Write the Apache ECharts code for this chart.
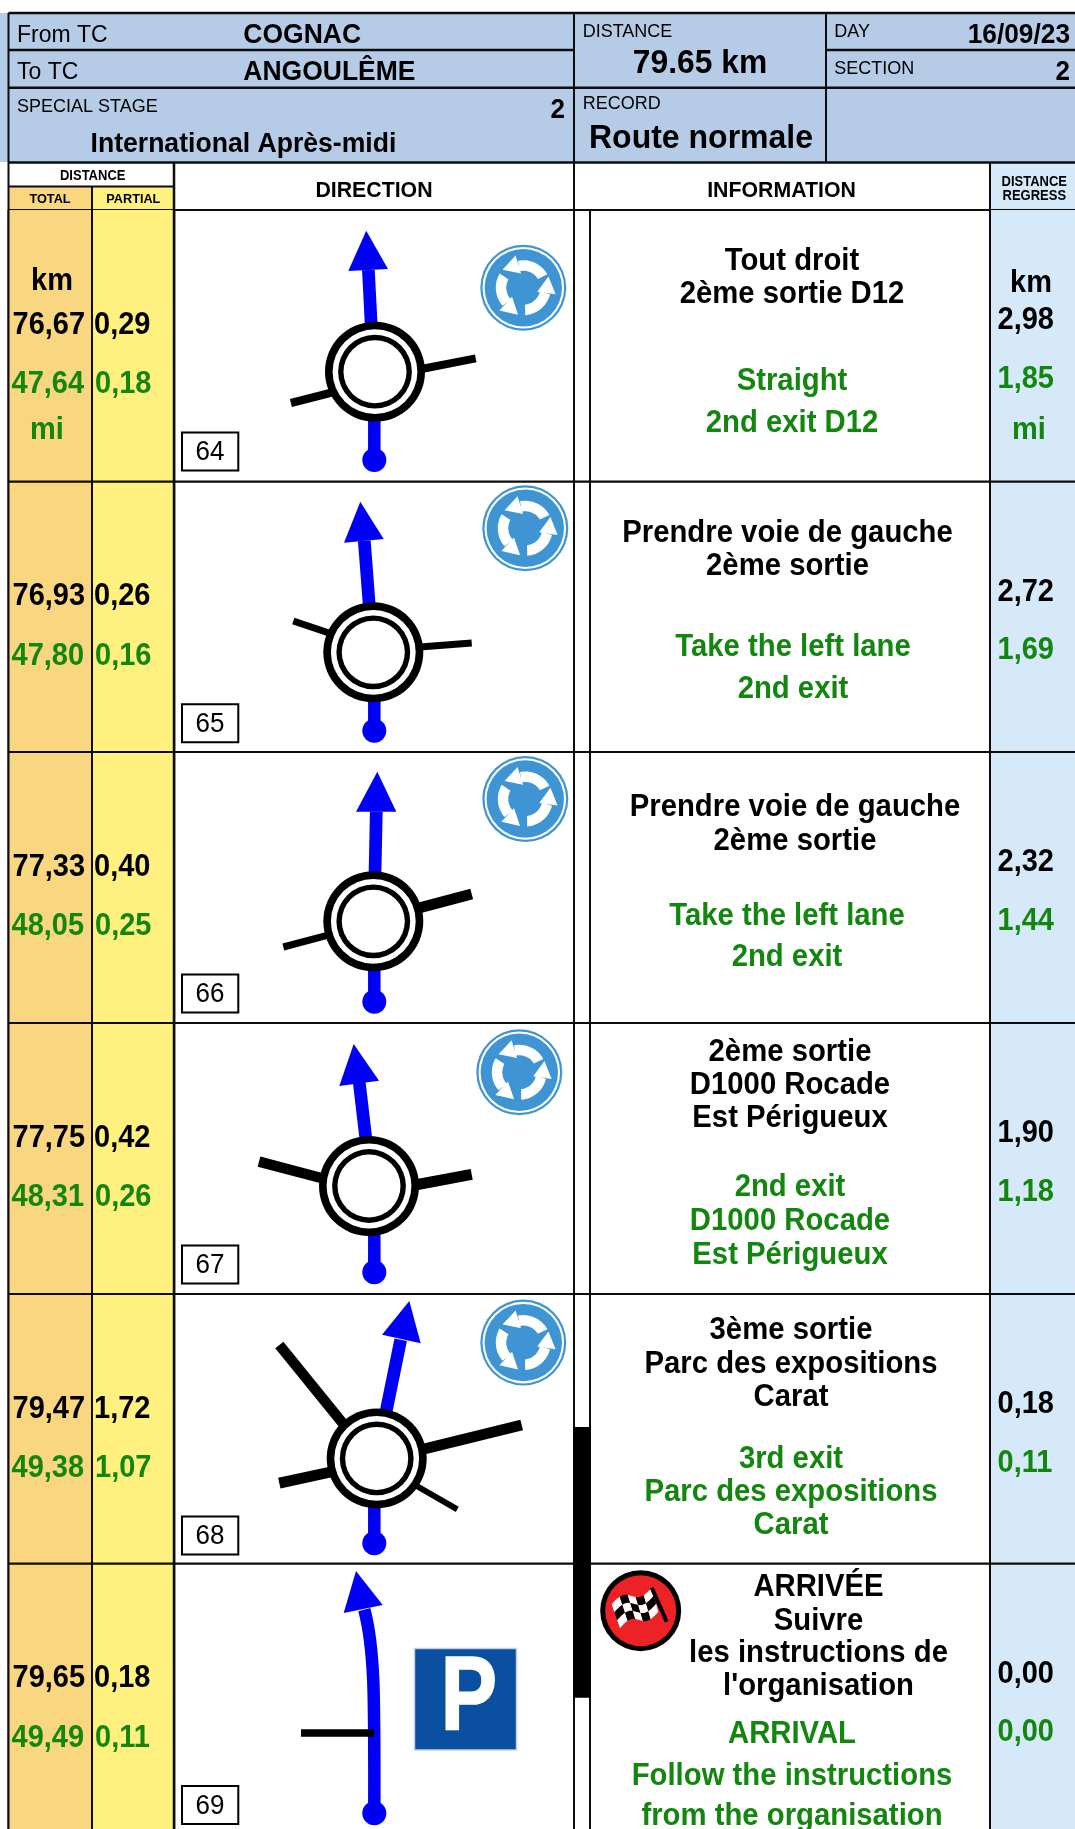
<!DOCTYPE html>
<html><head><meta charset="utf-8">
<style>html,body{margin:0;padding:0;background:#fff}#c{width:1075px;height:1829px}</style>
<script src="https://cdn.jsdelivr.net/npm/echarts@6/dist/echarts.min.js"></script>
</head><body><div id="c"></div>
<script>
// ---- values read from the roadbook ----
const fromTC = 'COGNAC';
const toTC = 'ANGOULÊME';
const stageName = 'International Après-midi';
const stageNo = '2';
const totalDistance = '79.65 km';
const roadType = 'Route normale';
const dayText = '16/09/23';
const sectionNo = '2';
const stepNumbers = ['64','65','66','67','68','69'];
const kmTotal   = ['76,67','76,93','77,33','77,75','79,47','79,65'];
const kmPartial = ['0,29','0,26','0,40','0,42','1,72','0,18'];
const miTotal   = ['47,64','47,80','48,05','48,31','49,38','49,49'];
const miPartial = ['0,18','0,16','0,25','0,26','1,07','0,11'];
const kmRegress = ['2,98','2,72','2,32','1,90','0,18','0,00'];
const miRegress = ['1,85','1,69','1,44','1,18','0,11','0,00'];
const infoFr = [
  ['Tout droit','2ème sortie D12'],
  ['Prendre voie de gauche','2ème sortie'],
  ['Prendre voie de gauche','2ème sortie'],
  ['2ème sortie','D1000 Rocade','Est Périgueux'],
  ['3ème sortie','Parc des expositions','Carat'],
  ['ARRIVÉE','Suivre','les instructions de',"l'organisation"]
];
const infoEn = [
  ['Straight','2nd exit D12'],
  ['Take the left lane','2nd exit'],
  ['Take the left lane','2nd exit'],
  ['2nd exit','D1000 Rocade','Est Périgueux'],
  ['3rd exit','Parc des expositions','Carat'],
  ['ARRIVAL','Follow the instructions','from the organisation']
];

// ---- layout of the sheet (positions on the page axes) ----
const rowTops = [210,481.7,752,1023,1294,1563.6];
const infoFrLayout = [
  {cx:792,y:[260,293]},{cx:787.5,y:[532,565]},{cx:795,y:[806,840]},
  {cx:790,y:[1051,1084,1117]},{cx:791,y:[1329,1363,1396]},{cx:818.5,y:[1586,1620,1652,1685]}
];
const infoEnLayout = [
  {cx:792,y:[380,422]},{cx:793,y:[646,688]},{cx:787,y:[915,956]},
  {cx:790,y:[1186,1220,1254]},{cx:791,y:[1458,1491,1524]},{cx:792,y:[1733,1775,1815]}
];
const diagrams = [
  {c:[375,371.7],dotY:460,line:[[371.2,325],[368.4,270]],head:[[366.2,230.7],[348.3,271],[388,269]],
   roads:[[290.9,403,334,392,8],[424,368.5,475.7,358.3,8]],sign:[523.3,287.7]},
  {c:[373.3,652.3],dotY:730.7,line:[[369.3,606],[364.3,540.7]],head:[[360.3,501.7],[344,542.7],[383.7,539]],
   roads:[[293.3,621,332,634,7],[420,647,471.7,643,7]],sign:[525.3,528.3]},
  {c:[373.3,921.3],dotY:1001.7,line:[[375,875],[376.3,811.7]],head:[[377.3,771.7],[356,811.7],[396.3,811.7]],
   roads:[[283.3,947,330,934.7,7],[417,908.5,471.7,894,11]],sign:[525.3,799]},
  {c:[369,1186],dotY:1272.3,line:[[366,1140],[359.3,1082.7]],head:[[353.7,1044],[339.3,1086],[379,1080.7]],
   roads:[[259,1161.7,325,1179,10.5],[415,1185,471.7,1174.3,11]],sign:[519.3,1072.3]},
  {c:[376.7,1458.4],dotY:1543.3,line:[[386,1412],[400.7,1339.8]],head:[[409.3,1301],[382,1334.7],[420.7,1343.3]],
   roads:[[279.3,1345,345,1426,10.5],[422,1449.5,521.7,1425,11],[279.3,1483.2,333,1471.5,11],[415,1485,457.3,1509.3,6]],sign:[523.3,1342.6]}
];
const C = {blue:'#b5cbe6',orange:'#f8d780',yellow:'#fef17f',sky:'#d5e9f8',green:'#13860f',route:'#0000f5',sign:'#3f95d3',line:'#0c0c0c'};
const FONT = '"Liberation Sans",Arial,sans-serif';
const TEXT_DY = 2.2, TEXT_STRETCH = 1.06;

function tools(api){
  const P = (x,y)=>api.coord([x,y]);
  return {
    P,
    rect:(x0,y0,x1,y1,fill,stroke,lw)=>{const a=P(x0,y0),b=P(x1,y1);return {type:'rect',shape:{x:a[0],y:a[1],width:b[0]-a[0],height:b[1]-a[1]},style:{fill:fill||'none',stroke:stroke||null,lineWidth:lw||0}};},
    line:(x0,y0,x1,y1,lw,col)=>{const a=P(x0,y0),b=P(x1,y1);return {type:'line',shape:{x1:a[0],y1:a[1],x2:b[0],y2:b[1]},style:{stroke:col||C.line,lineWidth:lw,lineCap:'butt'}};},
    circle:(x,y,r,fill)=>{const a=P(x,y);return {type:'circle',shape:{cx:a[0],cy:a[1],r},style:{fill}};},
    poly:(pts,fill)=>({type:'polygon',shape:{points:pts.map(p=>P(p[0],p[1]))},style:{fill}}),
    text:(s,x,y,size,bold,fill,align,sx,sy)=>{const a=P(x,y+TEXT_DY);return {type:'text',x:a[0],y:a[1],scaleX:sx||1,scaleY:sy||TEXT_STRETCH,style:{text:s,x:0,y:0,fill:fill||'#000',align:align||'left',verticalAlign:'middle',font:(bold?'bold ':'')+size+'px '+FONT}};}
  };
}

function roundaboutSign(t,cx,cy){
  const out=[t.circle(cx,cy,43,C.sign),t.circle(cx,cy,40.8,'#fff'),t.circle(cx,cy,38.7,C.sign)];
  const pol=(deg,r)=>[cx+r*Math.cos(deg*Math.PI/180),cy-r*Math.sin(deg*Math.PI/180)];
  [0,120,245].forEach(rot=>{
    const band=[];
    for(let a=29;a<=103;a+=4) band.push(pol(a+rot,27.5));
    for(let a=103;a>=29;a-=4) band.push(pol(a+rot,17));
    out.push(t.poly(band,'#fff'));
    out.push(t.poly([pol(139+rot,27.5),pol(103.5+rot,33),pol(99+rot,14.5)],'#fff'));
  });
  return out;
}

function finishSign(t){
  const cx=640.7,cy=1610.7,out=[t.circle(cx,cy,40.5,'#000'),t.circle(cx,cy,35.5,'#ec2227')];
  const TL=[611.7,1604.3],TR=[651.7,1587.7],BR=[658.3,1611.7],BL=[620,1628.3];
  const pt=(u,v)=>[TL[0]*(1-u)*(1-v)+TR[0]*u*(1-v)+BR[0]*u*v+BL[0]*(1-u)*v,
                   TL[1]*(1-u)*(1-v)+TR[1]*u*(1-v)+BR[1]*u*v+BL[1]*(1-u)*v-4.5*Math.sin(2*Math.PI*u)];
  const n=5,m=3,steps=4;
  for(let i=0;i<n;i++)for(let j=0;j<m;j++){
    const pts=[];
    for(let s=0;s<=steps;s++) pts.push(pt((i+s/steps)/n,j/m));
    for(let s=steps;s>=0;s--) pts.push(pt((i+s/steps)/n,(j+1)/m));
    out.push(t.poly(pts,(i+j)%2?'#000':'#fff'));
  }
  out.push(t.line(651.7,1587.7,666.7,1621.7,4,'#000'));
  return out;
}

function headerItem(params,api){
  const t=tools(api),ch=[];
  ch.push(t.rect(0,13,1075,162,C.blue));
  ch.push(t.rect(0,0,1075,13,'#fff'));
  ch.push(t.rect(8,186,92,210,C.orange));
  ch.push(t.rect(92,186,174,210,C.yellow));
  ch.push(t.rect(990,162,1075,210,C.sky));
  // rules
  [[8.5,13,1075,13,2.5],[8.5,50,574,50,2.5],[826,50,1075,50,2.5],[8.5,87.8,1075,87.8,2.5],[8.5,162.5,1075,162.5,2.5],
   [8.5,186.5,174,186.5,2],[8.5,210,1075,210,2]].forEach(l=>ch.push(t.line(l[0],l[1],l[2],l[3],l[4])));
  [[8.5,13,8.5,1829,2],[92,186,92,1829,2],[174,162,174,1829,2.5],[574,13,574,1829,2],[826,13,826,162,2],[990,162,990,1829,2]]
   .forEach(l=>ch.push(t.line(l[0],l[1],l[2],l[3],l[4])));
  // labels
  ch.push(t.text('From TC',17,33,23));
  ch.push(t.text('To TC',17,70,23));
  ch.push(t.text(fromTC,243.3,33,26.5,true));
  ch.push(t.text(toTC,243.3,70,26.5,true));
  ch.push(t.text('SPECIAL STAGE',17,104.5,18));
  ch.push(t.text(stageNo,565,108.5,26,true,'#000','right'));
  ch.push(t.text(stageName,90.5,142.5,26.6,true));
  ch.push(t.text('DISTANCE',582.7,30,18));
  ch.push(t.text(totalDistance,700,62,31.8,true,'#000','center'));
  ch.push(t.text('RECORD',582.7,102,18));
  ch.push(t.text(roadType,589,136,32,true));
  ch.push(t.text('DAY',834.3,30,18));
  ch.push(t.text(dayText,1070,33,26.3,true,'#000','right'));
  ch.push(t.text('SECTION',834.3,67,18));
  ch.push(t.text(sectionNo,1070,70.5,26,true,'#000','right'));
  ch.push(t.text('DISTANCE',92.7,174,13,true,'#000','center'));
  ch.push(t.text('TOTAL',50,197.5,12.7,true,'#000','center'));
  ch.push(t.text('PARTIAL',133.3,197.5,12.7,true,'#000','center'));
  ch.push(t.text('DIRECTION',374,188.5,21.3,true,'#000','center'));
  ch.push(t.text('INFORMATION',781.5,188.5,21.3,true,'#000','center'));
  ch.push(t.text('DISTANCE',1034.3,180.5,13,true,'#000','center'));
  ch.push(t.text('REGRESS',1034.3,194,13,true,'#000','center'));
  return {type:'group',children:ch};
}

function rowItem(params,api){
  const i=api.value(0),t=tools(api),ch=[];
  const top=rowTops[i],bottom=i<5?rowTops[i+1]:1829;
  ch.push(t.rect(9,top,92,bottom,C.orange));
  ch.push(t.rect(92,top,174,bottom,C.yellow));
  ch.push(t.rect(990,top,1075,bottom,C.sky));
  [[8.5,top,8.5,bottom,2],[92,top,92,bottom,2],[174,top,174,bottom,2.5],[574,top,574,bottom,2],[590,top,590,bottom,2],[990,top,990,bottom,2]]
    .forEach(l=>ch.push(t.line(l[0],l[1],l[2],l[3],l[4])));
  if(i>0) ch.push(t.line(8.5,top,1075,top,2.2));
  // distances
  const NUM=29;
  ch.push(t.text(kmTotal[i],12.5,top+113,NUM,true));
  ch.push(t.text(kmPartial[i],94,top+113,NUM,true));
  ch.push(t.text(miTotal[i],11.5,top+172.5,NUM,true,C.green));
  ch.push(t.text(miPartial[i],95,top+172.5,NUM,true,C.green));
  ch.push(t.text(kmRegress[i],997.5,top+108.5,NUM,true));
  ch.push(t.text(miRegress[i],997.5,top+167,NUM,true,C.green));
  if(i===0){
    ch.push(t.text('km',52,279,NUM,true,'#000','center'));
    ch.push(t.text('mi',47,428,NUM,true,C.green,'center'));
    ch.push(t.text('km',1031,281,NUM,true,'#000','center'));
    ch.push(t.text('mi',1029,428,NUM,true,C.green,'center'));
  }
  // step box
  ch.push(t.rect(182,top+222.5,238.3,top+260.5,'#fff','#000',2));
  ch.push(t.text(stepNumbers[i],210,top+240.5,26,false,'#000','center'));
  // info text
  const F=29.3;
  infoFr[i].forEach((s,k)=>ch.push(t.text(s,infoFrLayout[i].cx,infoFrLayout[i].y[k]-0.5,F,true,'#000','center')));
  infoEn[i].forEach((s,k)=>ch.push(t.text(s,infoEnLayout[i].cx,infoEnLayout[i].y[k]-0.5,F,true,C.green,'center')));
  // diagram
  if(i<5){
    const d=diagrams[i];
    d.roads.forEach(r=>ch.push(t.line(r[0],r[1],r[2],r[3],r[4],'#000')));
    ch.push(t.line(d.line[0][0],d.line[0][1],d.line[1][0],d.line[1][1],12.7,C.route));
    ch.push(t.poly(d.head,C.route));
    ch.push(t.line(374.3,d.c[1]+45,374.3,d.dotY,12.5,C.route));
    ch.push(t.circle(374.3,d.dotY,12,C.route));
    const [cx,cy]=d.c;
    ch.push(t.circle(cx,cy,50,'#000'),t.circle(cx,cy,42.4,'#fff'),t.circle(cx,cy,36.9,'#000'),t.circle(cx,cy,31.5,'#fff'));
    roundaboutSign(t,d.sign[0],d.sign[1]).forEach(g=>ch.push(g));
  } else {
    const a=t.P(374.3,1813),b=t.P(364.3,1609.7),c1=t.P(374.5,1700),c2=t.P(375,1650);
    ch.push({type:'bezierCurve',shape:{x1:a[0],y1:a[1],cpx1:c1[0],cpy1:c1[1],cpx2:c2[0],cpy2:c2[1],x2:b[0],y2:b[1]},style:{stroke:C.route,lineWidth:12.5,fill:'none'}});
    ch.push(t.poly([[356,1570.9],[343.7,1613],[382.7,1605]],C.route));
    ch.push(t.circle(374.3,1813.2,12,C.route));
    ch.push(t.line(301,1733,374,1733,7.5,'#000'));
    ch.push(t.rect(414.5,1648.5,516.5,1750,'#0b4fa1','#c3cfe0',1.5));
    const pLetter=t.text('P',440.5,1699,100,true,'#fff','left',0.85,1.06);
    pLetter.style.stroke='#fff'; pLetter.style.lineWidth=1.5;
    ch.push(pLetter);
    finishSign(t).forEach(g=>ch.push(g));
  }
  return {type:'group',children:ch};
}

function barItem(params,api){
  const t=tools(api);
  return t.rect(573.3,1427,590.7,1697.7,'#000');
}

const chart=echarts.init(document.getElementById('c'),null,{renderer:'canvas'});
chart.setOption({
  animation:false,
  grid:{left:0,right:0,top:0,bottom:0},
  xAxis:{type:'value',min:0,max:1075,show:false},
  yAxis:{type:'value',min:0,max:1829,inverse:true,show:false},
  tooltip:{show:false},
  series:[
    {type:'custom',coordinateSystem:'cartesian2d',clip:false,silent:true,z:1,renderItem:headerItem,data:[[0]]},
    {type:'custom',coordinateSystem:'cartesian2d',clip:false,silent:true,z:2,renderItem:rowItem,data:stepNumbers.map((s,i)=>[i])},
    {type:'custom',coordinateSystem:'cartesian2d',clip:false,silent:true,z:3,renderItem:barItem,data:[[0]]}
  ]
});
</script></body></html>
